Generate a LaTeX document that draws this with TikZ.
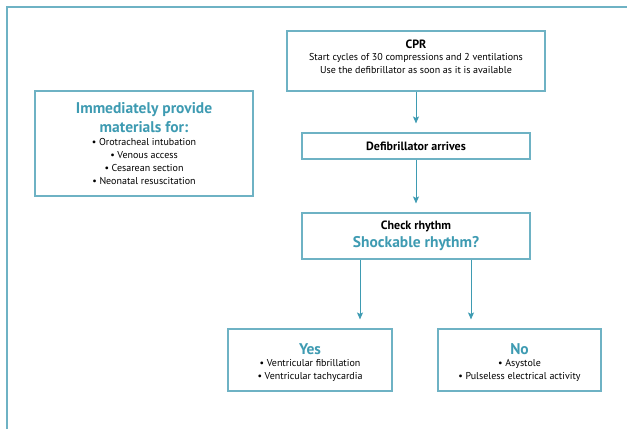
\documentclass[tikz,border=0pt]{standalone}
\usepackage{fontspec}
\setmainfont{PT Sans}
\usetikzlibrary{arrows.meta}
\definecolor{teal1}{RGB}{62,155,178}
\definecolor{frame1}{RGB}{110,178,196}
\tikzset{
  box/.style={draw=frame1, line width=1.1pt, fill=white, align=center, inner sep=0pt},
  arr/.style={draw=teal1, line width=1pt, -{Stealth[length=7pt,width=6pt,inset=1.5pt]}, shorten >=9pt},
  body/.style={font=\fontsize{10}{13}\selectfont},
  txt/.style={align=center, inner sep=0pt, font=\fontsize{10}{13}\selectfont},
}
\newcommand{\hd}[1]{{\fontsize{15.5}{18}\selectfont\bfseries\color{teal1}#1}}
\newcommand{\bk}[1]{{\fontsize{12}{14}\selectfont\bfseries #1}}
\begin{document}
\begin{tikzpicture}[x=1pt,y=1pt]
\useasboundingbox (0,0) rectangle (627,429);
% outer frame
\draw[frame1, line width=1.5pt] (7,0) -- (7,422) -- (627,422);
% nodes (y = 429 - pixel y)
\node[box, minimum width=258, minimum height=60] (cpr) at (416,368) {};
\node[txt] (cprt) at ([yshift=4pt]cpr.center)
  {\bk{CPR}\\[-1pt] Start cycles of 30 compressions and 2 ventilations\\ Use the defibrillator as soon as it is available};
\node[box, minimum width=218, minimum height=105, body] (mat) at (144,285.5)
  {\hd{Immediately provide}\\[4pt] \hd{materials for:}\\[0pt]
   • Orotracheal intubation\\ • Venous access\\ • Cesarean section\\ • Neonatal resuscitation};
\node[box, minimum width=228, minimum height=26] (def) at (416,283) {\bk{Defibrillator arrives}};
\node[box, minimum width=228, minimum height=46] (chk) at (416,193)
  {\bk{Check rhythm}\\[4pt] \hd{Shockable rhythm?}};
\node[box, minimum width=164, minimum height=62] (yes) at (310,69) {};
\node[txt] (yest) at ([yshift=-2.5pt]yes.center)
  {\hd{Yes}\\[-1pt] • Ventricular fibrillation\\ • Ventricular tachycardia};
\node[box, minimum width=163, minimum height=62] (no) at (519.5,69) {};
\node[txt] (not) at ([yshift=-2.5pt]no.center)
  {\hd{No}\\[-1pt] • Asystole\\ • Pulseless electrical activity};
\coordinate (yx) at (360,0);
\coordinate (nx) at (471,0);
% connectors
\draw[arr] (cpr.south) -- (def.north);
\draw[arr] (def.south) -- (chk.north);
\draw[arr] (chk.south -| yx) -- (yes.north -| yx);
\draw[arr] (chk.south -| nx) -- (no.north -| nx);
\end{tikzpicture}
\end{document}
